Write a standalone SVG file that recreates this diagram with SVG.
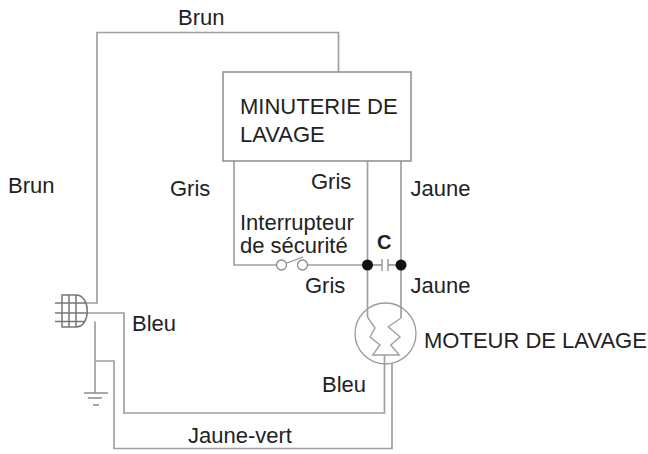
<svg xmlns="http://www.w3.org/2000/svg" width="648" height="454" viewBox="0 0 648 454">
<style>
text{font-family:"Liberation Sans",Arial,sans-serif;font-size:22px;fill:#222}
.w{fill:none;stroke:#a0a0a0;stroke-width:1.7}
.t{fill:none;stroke:#8c8c8c;stroke-width:1.3}
.p{fill:none;stroke:#777;stroke-width:1.5}
.z{fill:none;stroke:#a0a0a0;stroke-width:1.4}
.d{fill:#111}
</style>
<rect width="648" height="454" fill="#fff"/>
<g id="connectors">
<path class="w" d="M87 303H97V32.500H338.500V72"/>
<path class="w" d="M234 161V265H276.500M308 265H367"/>
<path class="w" d="M367.500 161V317"/>
<path class="w" d="M401 161V318"/>
<path class="w" d="M87 313H124V413H384.500V355"/>
<path class="w" d="M95 321.500V393"/>
<path class="w" d="M95 361H114V448.500H392V363.500"/>
<path class="t" d="M371 265H382M388 265H398M382 259V271M388 259V271"/>
</g>
<g id="timer">
<rect x="223" y="72" width="188" height="89" fill="#fff" stroke="#8c8c8c" stroke-width="1.5"/>
<text x="240" y="114">MINUTERIE DE</text>
<text x="240" y="142">LAVAGE</text>
</g>
<g id="plug">
<path class="p" d="M62 295H76C91 295 91 327 76 327H62ZM69 295V327M76 295V327M55 303H87M55 313H87M55 321.500H85"/>
</g>
<g id="ground">
<path class="t" d="M84 393H108M88 398H102M93 405H99"/>
</g>
<g id="switch">
<circle class="t" cx="281.500" cy="265" r="5"/>
<circle class="t" cx="302.500" cy="265" r="5"/>
<path class="t" d="M287 263L303 257"/>
</g>
<g id="capacitor">
<circle class="d" cx="367.500" cy="265" r="5.500"/>
<circle class="d" cx="401" cy="265" r="5.500"/>
<text x="377" y="249" style="font-weight:700;font-size:20px">C</text>
</g>
<g id="motor">
<circle cx="385.500" cy="333.500" r="30.500" fill="none" stroke="#9a9a9a" stroke-width="1.300"/>
<path class="z" d="M367.500 317L375 328L370 337L380 345L372.700 355H399.300L390.700 345L400 337L388.300 326.700L401 318"/>
</g>
<g id="labels">
<text x="178" y="25">Brun</text>
<text x="8" y="193">Brun</text>
<text x="170" y="195.500">Gris</text>
<text x="311" y="189">Gris</text>
<text x="410.500" y="196">Jaune</text>
<text><tspan x="240" y="230">Interrupteur</tspan><tspan x="240" y="253">de sécurité</tspan></text>
<text x="305" y="293">Gris</text>
<text x="410.500" y="292.500">Jaune</text>
<text x="132" y="331">Bleu</text>
<text x="424" y="347.500">MOTEUR DE LAVAGE</text>
<text x="322" y="392">Bleu</text>
<text x="188" y="443">Jaune-vert</text>
</g>
</svg>
